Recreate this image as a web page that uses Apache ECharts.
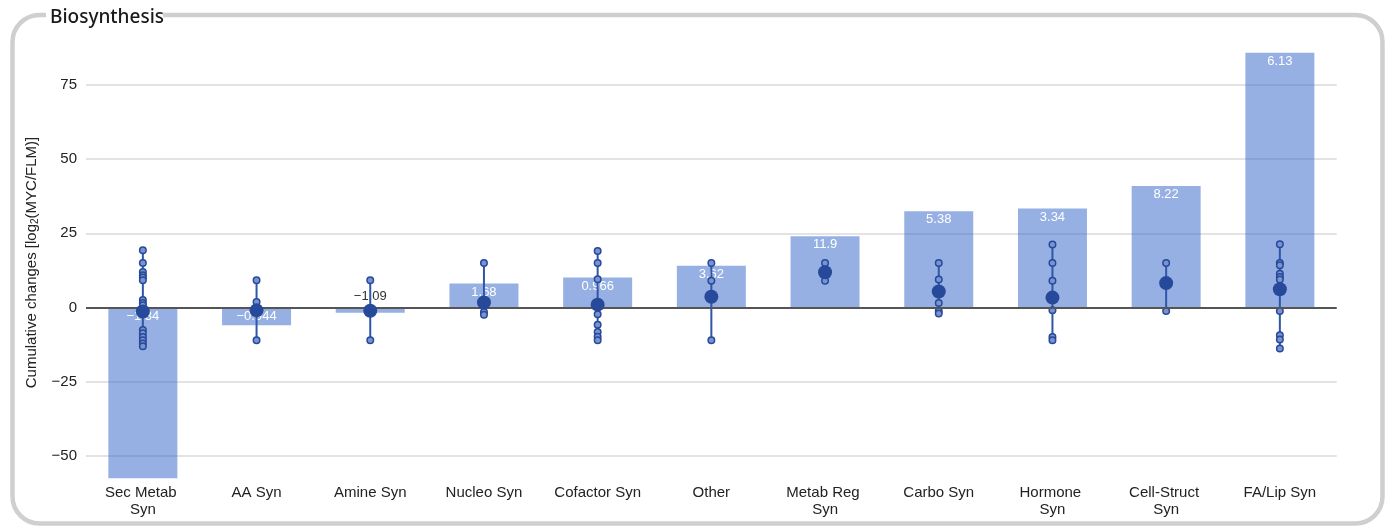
<!DOCTYPE html>
<html>
<head>
<meta charset="utf-8">
<script src="https://cdn.jsdelivr.net/npm/echarts@6/dist/echarts.min.js"></script>
<style>
html,body{margin:0;padding:0;background:#fff;}
#chart{width:1390px;height:526px;}
</style>
</head>
<body>
<div id="chart"></div>
<script>
// ---- data ----
const titleText = 'Biosynthesis';
const categories = ['Sec Metab Syn', 'AA Syn', 'Amine Syn', 'Nucleo Syn', 'Cofactor Syn', 'Other',
  'Metab Reg Syn', 'Carbo Syn', 'Hormone Syn', 'Cell-Struct Syn', 'FA/Lip Syn'];
const cumulativeValues = [-57.5, -6.0, -1.8, 8.1, 10.1, 14.1, 24.0, 32.4, 33.3, 40.9, 85.8];
const meanValues = [-1.34, -0.944, -1.09, 1.68, 0.966, 3.62, 11.9, 5.38, 3.34, 8.22, 6.13];
const pointsSecMetab = [19.3, 15.0, 12.0, 10.9, 10.1, 9.2, 2.5, 1.5, 0.8, -7.6, -8.7, -9.9, -11.0, -12.1, -13.0];
const pointsAA = [9.2, 1.9, -11.0];
const pointsAmine = [9.2, -11.0];
const pointsNucleo = [15.0, -1.5, -2.4];
const pointsCofactor = [19.0, 15.0, 9.5, -2.3, -5.8, -8.2, -9.8, -11.0];
const pointsOther = [15.0, 9.0, -11.0];
const pointsMetabReg = [15.0, 9.0];
const pointsCarbo = [15.0, 9.4, 1.5, -1.2, -2.0];
const pointsHormone = [21.2, 15.0, 9.0, -0.9, -9.9, -11.0];
const pointsCellStruct = [15.0, -1.2];
const pointsFALip = [21.3, 15.0, 14.2, 11.4, 10.3, 9.4, -1.2, -9.3, -10.8, -13.8];
const yTickValues = [-50, -25, 0, 25, 50, 75];

const pointSets = [pointsSecMetab, pointsAA, pointsAmine, pointsNucleo, pointsCofactor, pointsOther,
  pointsMetabReg, pointsCarbo, pointsHormone, pointsCellStruct, pointsFALip];

// ---- helpers ----
const fmt = v => (v < 0 ? '\u2212' + Math.abs(v) : String(v));
const dark = '#26499a';
const textFont = '"Liberation Sans", Arial, sans-serif';

const barData = cumulativeValues.map((v, i) => {
  if (Math.abs(v) < 3) {
    return { value: v, label: { position: 'top', color: '#333', distance: 5 } };
  }
  return v;
});
const pointData = [];
pointSets.forEach((arr, i) => arr.forEach(v => pointData.push([i, v])));
const whiskerData = pointSets.map((arr, i) => [i, Math.min.apply(null, arr.concat(meanValues[i])), Math.max.apply(null, arr.concat(meanValues[i]))]);
const meanData = meanValues.map((v, i) => [i, v]);

const chart = echarts.init(document.getElementById('chart'), null, { renderer: 'canvas' });
chart.setOption({
  animation: false,
  backgroundColor: '#fff',
  textStyle: { fontFamily: textFont },
  grid: { left: 86, right: 53.3, top: 52.7, bottom: 47.7, containLabel: false },
  xAxis: {
    type: 'category',
    data: categories,
    axisLine: { show: false },
    axisTick: { show: false },
    axisLabel: {
      color: '#222', fontSize: 15, margin: 6, lineHeight: 17,
      width: 90, overflow: 'break', interval: 0, fontFamily: textFont
    },
    splitLine: { show: false }
  },
  yAxis: {
    type: 'value',
    min: 'dataMin',
    max: 'dataMax',
    name: '{a|Cumulative changes [log}{s|2}{a|(MYC/FLM)]}',
    nameLocation: 'middle',
    nameGap: 44,
    nameRotate: 90,
    nameTextStyle: {
      fontSize: 15, color: '#222', fontFamily: textFont, padding: [0, 0, 0, 6],
      rich: {
        a: { fontSize: 15, color: '#222', fontFamily: textFont, lineHeight: 18, verticalAlign: 'middle' },
        s: { fontSize: 10, color: '#222', fontFamily: textFont, lineHeight: 18, verticalAlign: 'bottom', padding: [6, 0, 0, 0] }
      }
    },
    axisLine: { show: false },
    axisTick: { show: false, customValues: yTickValues },
    axisLabel: { customValues: yTickValues, color: '#222', fontSize: 15, margin: 9, formatter: fmt, fontFamily: textFont },
    splitLine: { show: true, lineStyle: { color: '#dadada', width: 1.5 } }
  },
  series: [
    {
      type: 'bar',
      data: barData,
      barWidth: 69,
      z: 2,
      itemStyle: { color: 'rgba(58,106,204,0.53)' },
      label: {
        show: true, position: 'insideTop', distance: 2, color: '#fff', fontSize: 13, fontFamily: textFont,
        formatter: p => fmt(meanValues[p.dataIndex])
      },
      markLine: {
        silent: true, symbol: 'none', label: { show: false },
        lineStyle: { color: '#555', width: 2, type: 'solid' },
        data: [{ yAxis: 0 }]
      }
    },
    {
      type: 'custom',
      z: 3,
      data: whiskerData,
      encode: { x: 0, y: [1, 2] },
      renderItem: (params, api) => {
        const p1 = api.coord([api.value(0), api.value(1)]);
        const p2 = api.coord([api.value(0), api.value(2)]);
        return { type: 'line', shape: { x1: p1[0], y1: p1[1], x2: p2[0], y2: p2[1] }, style: { stroke: '#2f56a8', lineWidth: 2 } };
      }
    },
    {
      type: 'scatter',
      z: 4,
      data: pointData,
      symbolSize: 6.5,
      itemStyle: { color: '#7893d0', borderColor: dark, borderWidth: 1.5, opacity: 1 }
    },
    {
      type: 'scatter',
      z: 5,
      data: meanData,
      symbolSize: 14,
      itemStyle: { color: dark, opacity: 1 }
    }
  ],
  graphic: [
    {
      type: 'rect', z: 100, silent: true,
      shape: { x: 12.5, y: 15, width: 1370, height: 508.5, r: 27 },
      style: { fill: 'none', stroke: '#cfcfcf', lineWidth: 4.5 }
    },
    {
      type: 'rect', z: 101, silent: true,
      shape: { x: 46, y: 5, width: 117, height: 22 },
      style: { fill: '#fff' }
    },
    {
      type: 'text', z: 102, silent: true,
      x: 50, y: 18,
      style: { text: titleText, font: '500 19px "Noto Sans", sans-serif', fill: '#1a1a1a', verticalAlign: 'middle', align: 'left' }
    }
  ]
});
</script>
</body>
</html>
